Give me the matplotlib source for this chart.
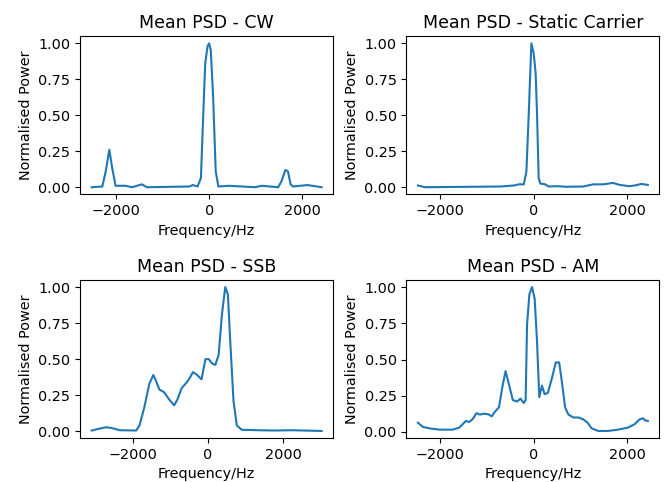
import numpy as np
import matplotlib
matplotlib.use("Agg")
import matplotlib.pyplot as plt
from matplotlib.ticker import MultipleLocator

# Courbes (fréquence en Hz, puissance normalisée)
cw_freq = [-2530, -2300, -2227, -2150, -2086, -2015, -1803, -1661, -1450, -1343,
           -424, -354, -250, -177, -141, -85, -35, 0, 35, 85, 141, 198, 424,
           990, 1131, 1485, 1555, 1640, 1697, 1753, 1803, 2121, 2420]
cw_power = [0.0, 0.005, 0.11, 0.26, 0.13, 0.01, 0.01, 0.0, 0.02, 0.0,
            0.005, 0.015, 0.005, 0.065, 0.39, 0.86, 0.98, 1.0, 0.95, 0.63, 0.11, 0.005, 0.01,
            0.0, 0.01, 0.0, 0.04, 0.12, 0.11, 0.02, 0.005, 0.015, 0.0]

static_freq = [-2478, -2407, -2336, -708, -425, -319, -212, -156, -106, -50, 0, 42,
               71, 106, 142, 248, 318, 495, 708, 1062, 1274, 1487, 1699, 1840,
               2053, 2195, 2301, 2442]
static_power = [0.012, 0.007, 0.0, 0.005, 0.012, 0.02, 0.02, 0.11, 0.51, 1.0, 0.93, 0.79,
                0.51, 0.065, 0.025, 0.02, 0.005, 0.007, 0.003, 0.005, 0.02, 0.02, 0.03, 0.016,
                0.007, 0.014, 0.023, 0.016]

ssb_freq = [-3103, -2927, -2707, -2532, -2356, -1916, -1828, -1696, -1565, -1459,
            -1389, -1301, -1169, -1037, -905, -817, -703, -598, -510, -404, -290,
            -176, -70, 18, 105, 193, 281, 369, 457, 527, 589, 677, 765, 897, 1336,
            1776, 2215, 3024]
ssb_power = [0.005, 0.016, 0.028, 0.02, 0.007, 0.005, 0.04, 0.17, 0.33, 0.39,
             0.35, 0.29, 0.27, 0.22, 0.18, 0.22, 0.30, 0.33, 0.36, 0.41, 0.39,
             0.36, 0.50, 0.50, 0.47, 0.46, 0.53, 0.81, 1.0, 0.95, 0.63, 0.21, 0.04, 0.01, 0.007,
             0.005, 0.007, 0.002]

am_freq = [-2478, -2372, -2230, -2018, -1735, -1593, -1451, -1381, -1310, -1225,
           -1154, -1062, -970, -899, -828, -743, -673, -602, -531, -446, -354,
           -283, -212, -172, -142, -92, -35, 21, 71, 120, 177, 234, 304, 389, 474,
           545, 602, 673, 743, 850, 956, 1062, 1154, 1239, 1381, 1593, 1805, 2018,
           2159, 2266, 2337, 2386, 2443]
am_power = [0.064, 0.035, 0.025, 0.016, 0.016, 0.03, 0.076, 0.069, 0.087, 0.13,
            0.12, 0.126, 0.122, 0.108, 0.14, 0.17, 0.306, 0.42, 0.33, 0.22, 0.21,
            0.23, 0.20, 0.22, 0.74, 0.95, 1.0, 0.92, 0.63, 0.24, 0.32, 0.26, 0.27, 0.37, 0.48,
            0.48, 0.35, 0.17, 0.12, 0.10, 0.10, 0.087, 0.064, 0.025, 0.007, 0.007, 0.016, 0.03,
            0.053, 0.087, 0.094, 0.08, 0.076]

panels = [
    ("Mean PSD - CW", cw_freq, cw_power),
    ("Mean PSD - Static Carrier", static_freq, static_power),
    ("Mean PSD - SSB", ssb_freq, ssb_power),
    ("Mean PSD - AM", am_freq, am_power),
]

plt.rcParams['font.size'] = 10.4

fig, axes = plt.subplots(2, 2, figsize=(6.68, 4.82), dpi=100)

for ax, (title, freq, power) in zip(axes.flat, panels):
    ax.plot(np.array(freq), np.array(power), color='#1f77b4', linewidth=1.5)
    ax.set_title(title)
    ax.set_xlabel("Frequency/Hz")
    ax.set_ylabel("Normalised Power")
    ax.set_yticks([0.0, 0.25, 0.5, 0.75, 1.0])
    ax.xaxis.set_major_locator(MultipleLocator(2000))

plt.subplots_adjust(left=0.12, right=0.987, top=0.925, bottom=0.091,
                    wspace=0.29, hspace=0.54)
plt.savefig("out.png", dpi=100)
